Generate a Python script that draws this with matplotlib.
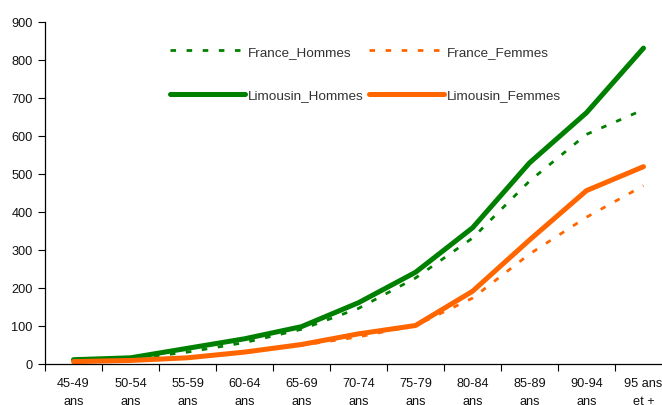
import matplotlib
matplotlib.use("Agg")
import matplotlib.pyplot as plt
import numpy as np

plt.rcParams['font.family'] = ['Liberation Sans', 'DejaVu Sans']

categories = ["45-49\nans", "50-54\nans", "55-59\nans", "60-64\nans", "65-69\nans",
              "70-74\nans", "75-79\nans", "80-84\nans", "85-89\nans", "90-94\nans", "95 ans\net +"]
france_hommes = [8, 12, 30, 55, 90, 145, 225, 330, 480, 603, 668]
france_femmes = [4, 7, 15, 28, 48, 70, 100, 172, 288, 385, 468]
limousin_hommes = [10, 15, 40, 65, 97, 160, 240, 357, 528, 660, 830]
limousin_femmes = [5, 8, 15, 30, 50, 78, 100, 190, 325, 455, 518]
yticks = list(range(0, 901, 100))

green = "#008000"
orange = "#FF6600"
fs = 9.2
lfs = 9.7

fig = plt.figure(figsize=(6.62, 4.06), dpi=100)
ax = fig.add_axes([45/662, 1-364.5/406, 627/662, (364.5-22.5)/406])

x = np.arange(len(categories)) + 0.5
l_fh, = ax.plot(x, france_hommes, color=green, lw=2.0, dashes=(2.0, 3.8), label="France_Hommes")
l_ff, = ax.plot(x, france_femmes, color=orange, lw=2.0, dashes=(2.0, 3.8), label="France_Femmes")
l_lh, = ax.plot(x, limousin_hommes, color=green, lw=3.6, solid_capstyle='round',
                solid_joinstyle='round', label="Limousin_Hommes")
l_lf, = ax.plot(x, limousin_femmes, color=orange, lw=3.6, solid_capstyle='round',
                solid_joinstyle='round', label="Limousin_Femmes")

ax.set_xlim(0, len(categories))
ax.set_ylim(0, 900)
ax.set_yticks(yticks)
ax.set_xticks(np.arange(len(categories) + 1))
ax.set_xticklabels([])
ax.set_xticks(x, minor=True)
ax.set_xticklabels(categories, minor=True, fontsize=fs, linespacing=1.65, color="#111111")
ax.tick_params(axis='x', which='minor', length=0, pad=10)
ax.tick_params(axis='x', which='major', length=5, width=0.8, direction='out')
ax.tick_params(axis='y', length=5, width=0.8, direction='out', labelsize=fs, pad=4,
               labelcolor="#111111")
for s in ['top', 'right']:
    ax.spines[s].set_visible(False)
for s in ['left', 'bottom']:
    ax.spines[s].set_linewidth(0.9)

handles = [l_fh, l_lh, l_ff, l_lf]
labels = [h.get_label() for h in handles]
leg = fig.legend(handles, labels, ncol=2, frameon=False,
                 loc='upper left', bbox_to_anchor=(170/662, 1-46.5/406),
                 fontsize=lfs, handlelength=5.6, handletextpad=0.2,
                 columnspacing=0.35, labelspacing=2.3, borderpad=0, borderaxespad=0)
for t in leg.get_texts():
    t.set_color("#333333")

fig.savefig("out.png", dpi=100)
